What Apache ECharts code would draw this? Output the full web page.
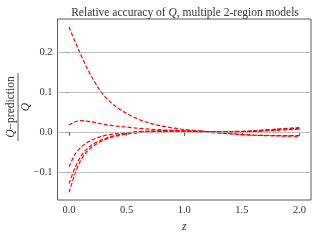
<!DOCTYPE html>
<html><head><meta charset="utf-8">
<script src="https://cdn.jsdelivr.net/npm/echarts@6/dist/echarts.min.js"></script>
<style>html,body{margin:0;padding:0;background:#fff}#c{width:320px;height:240px}</style>
</head><body><div id="c"></div>
<script>
const zValues = [0, 0.05, 0.1, 0.15, 0.2, 0.25, 0.3, 0.35, 0.4, 0.5, 0.6, 0.7, 0.8, 0.9, 1.0, 1.2, 1.4, 1.6, 1.8, 2.0];
const modelA = [0.263, 0.228, 0.195, 0.164, 0.137, 0.113, 0.093, 0.078, 0.066, 0.047, 0.033, 0.023, 0.016, 0.011, 0.007, 0.002, -0.003, -0.007, -0.009, -0.010];
const modelB = [0.018, 0.026, 0.029, 0.028, 0.026, 0.023, 0.020, 0.018, 0.016, 0.013, 0.010, 0.008, 0.006, 0.005, 0.003, 0.000, -0.004, -0.007, -0.008, -0.008];
const modelC = [-0.086, -0.056, -0.038, -0.027, -0.019, -0.013, -0.009, -0.006, -0.004, -0.001, 0.002, 0.003, 0.004, 0.004, 0.003, 0.002, 0.001, 0.002, 0.005, 0.008];
const modelD = [-0.128, -0.090, -0.061, -0.043, -0.031, -0.023, -0.017, -0.012, -0.008, -0.003, 0.000, 0.002, 0.003, 0.003, 0.003, 0.002, 0.001, 0.003, 0.007, 0.010];
const modelE = [-0.150, -0.105, -0.071, -0.050, -0.036, -0.027, -0.020, -0.014, -0.010, -0.004, -0.001, 0.001, 0.002, 0.003, 0.003, 0.002, 0.002, 0.004, 0.008, 0.012];
const xTicks = [0, 0.5, 1.0, 1.5, 2.0];
const yTicks = [-0.1, 0.0, 0.1, 0.2];
const models = [modelA, modelB, modelC, modelD, modelE];

const FONT = 'Liberation Serif';
const chart = echarts.init(document.getElementById('c'), null, {renderer: 'canvas'});
const series = models.map((m, i) => ({
  type: 'line',
  data: zValues.map((z, j) => [z, m[j]]),
  smooth: 0.3,
  showSymbol: false,
  lineStyle: {color: '#ff0000', width: 1.2, type: [4, 2]},
  z: 3,
  markLine: i === 0 ? {
    silent: true, symbol: 'none', animation: false,
    label: {show: false},
    lineStyle: {color: '#b0b0b0', width: 0.8, type: 'solid'},
    data: yTicks.map(v => ({yAxis: v}))
  } : undefined
}));
chart.setOption({
  animation: false,
  title: {
    text: 'Relative accuracy of {i|Q}, multiple 2-region models',
    left: 180, top: 2, textAlign: 'center',
    textStyle: {fontFamily: FONT, fontSize: 11.5, fontWeight: 'normal', color: '#333',
      rich: {i: {fontFamily: FONT, fontSize: 11.5, fontStyle: 'italic', color: '#333'}}}
  },
  grid: {left: 57.5, right: 9, top: 19, bottom: 40, show: true, borderColor: '#333', borderWidth: 0.8, backgroundColor: 'transparent'},
  xAxis: {
    type: 'value', min: -0.1, max: 2.1,
    name: 'z', nameLocation: 'middle', nameGap: 21,
    nameTextStyle: {fontFamily: FONT, fontSize: 12, fontStyle: 'italic', color: '#333'},
    axisLine: {show: false},
    axisTick: {show: true, inside: false, length: 3.5, customValues: xTicks, lineStyle: {color: '#333', width: 0.8}},
    axisLabel: {customValues: xTicks, fontFamily: FONT, fontSize: 10.5, color: '#333', margin: 5, formatter: v => v.toFixed(1)},
    splitLine: {show: false}
  },
  yAxis: {
    type: 'value', min: -0.169, max: 0.283,
    axisLine: {show: false},
    axisTick: {show: true, inside: false, length: 3.5, customValues: yTicks, lineStyle: {color: '#333', width: 0.8}},
    axisLabel: {customValues: yTicks, fontFamily: FONT, fontSize: 10.5, color: '#333', margin: 5,
      formatter: v => (v < 0 ? '\u2212' + Math.abs(v).toFixed(1) : v.toFixed(1))},
    splitLine: {show: false}
  },
  graphic: [{
    type: 'group', x: 18, y: 107, rotation: Math.PI / 2,
    children: [
      {type: 'text', x: 0, y: -1.5, style: {text: '{i|Q}\u2212prediction', fontFamily: FONT, fontSize: 11.5, fill: '#333', align: 'center', verticalAlign: 'bottom',
        rich: {i: {fontFamily: FONT, fontSize: 11.5, fontStyle: 'italic', fill: '#333'}}}},
      {type: 'line', shape: {x1: -34, y1: 0, x2: 34, y2: 0}, style: {stroke: '#333', lineWidth: 0.8}},
      {type: 'text', x: 0, y: 1.5, style: {text: 'Q', fontFamily: FONT, fontSize: 11.5, fontStyle: 'italic', fill: '#333', align: 'center', verticalAlign: 'top'}}
    ]
  }],
  series: series
});
</script></body></html>
